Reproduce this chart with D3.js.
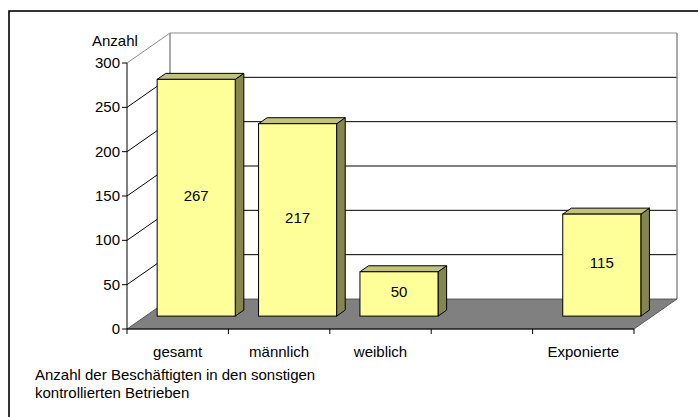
<!DOCTYPE html>
<html>
<head>
<meta charset="utf-8">
<script src="https://cdn.jsdelivr.net/npm/d3@7"></script>
<style>
  body { margin: 0; background: #fff; }
  text { font-family: "Liberation Sans", Arial, sans-serif; fill: #000; }
</style>
</head>
<body>
<script>
// chart data
var categories = ["gesamt", "männlich", "weiblich", "", "Exponierte"];
var values = [267, 217, 50, null, 115];
var yTicks = [0, 50, 100, 150, 200, 250, 300];
var yTitle = "Anzahl";
var footer = ["Anzahl der Beschäftigten in den sonstigen", "kontrollierten Betrieben"];

window.onload = drawChart();

function drawChart(){
	var width = 698, height = 417;

	var svg = d3.select("body").append("svg")
		.attr("width", width)
		.attr("height", height);

	//outer frame (cut off on the right and bottom)
	svg.append("rect")
		.attr("x", 9).attr("y", 11)
		.attr("width", 720).attr("height", 440)
		.attr("fill", "none").attr("stroke", "#000").attr("stroke-width", 1.6);

	//front plane scales
	var x0 = 127, x1 = 634;
	var x = d3.scaleBand()
		.domain(d3.range(categories.length))
		.range([x0, x1])
		.paddingInner(0.23)
		.paddingOuter(0.115);
	var y = d3.scaleLinear().domain([0, 300]).range([329, 63]);

	//depth offset of the 3d box
	var depthX = 43, depthY = -30;
	function ox(f){ return depthX * f; }
	function oy(f){ return depthY * f; }

	var bx0 = x0 + ox(1), bx1 = x1 + ox(1);

	//back wall
	svg.append("polygon")
		.attr("points", [[bx0, y(300) + oy(1)], [bx1, y(300) + oy(1)], [bx1, y(0) + oy(1)], [bx0, y(0) + oy(1)]].join(" "))
		.attr("fill", "#fff");

	//gridlines on side wall and back wall
	var grid = svg.append("g");
	yTicks.filter(function(v){ return v > 0; }).forEach(function(v){
		var c = v === 300 ? "#8c8c8c" : "#000";
		grid.append("line")
			.attr("x1", x0).attr("y1", y(v))
			.attr("x2", bx0).attr("y2", y(v) + oy(1))
			.attr("stroke", c);
		grid.append("line")
			.attr("x1", bx0).attr("y1", y(v) + oy(1))
			.attr("x2", bx1).attr("y2", y(v) + oy(1))
			.attr("stroke", c);
	});
	//back wall vertical edges
	[bx0, bx1].forEach(function(bx){
		grid.append("line")
			.attr("x1", bx).attr("y1", y(300) + oy(1))
			.attr("x2", bx).attr("y2", y(0) + oy(1))
			.attr("stroke", "#8c8c8c").attr("stroke-width", 1.5);
	});

	//floor
	svg.append("polygon")
		.attr("points", [[x0, y(0)], [x1, y(0)], [bx1, y(0) + oy(1)], [bx0, y(0) + oy(1)]].join(" "))
		.attr("fill", "#808080")
		.attr("stroke", "#444").attr("stroke-width", 0.8);

	//bars
	var fFront = 0.43, fBack = 0.63;
	var bars = svg.selectAll(".bar")
		.data(values.map(function(v, i){ return {v: v, i: i}; }).filter(function(d){ return d.v != null; }))
		.enter().append("g").attr("class", "bar");

	bars.each(function(d){
		var g = d3.select(this);
		var l = x(d.i) + ox(fFront), r = l + x.bandwidth();
		var t = y(d.v) + oy(fFront), b = y(0) + oy(fFront);
		var dx = ox(fBack) - ox(fFront), dy = oy(fBack) - oy(fFront);
		g.append("polygon")
			.attr("points", [[r, t], [r + dx, t + dy], [r + dx, b + dy], [r, b]].join(" "))
			.attr("fill", "#858550").attr("stroke", "#000").attr("stroke-linejoin", "round");
		g.append("polygon")
			.attr("points", [[l, t], [l + dx, t + dy], [r + dx, t + dy], [r, t]].join(" "))
			.attr("fill", "#c2c27a").attr("stroke", "#000").attr("stroke-linejoin", "round");
		g.append("rect")
			.attr("x", l).attr("y", t)
			.attr("width", r - l).attr("height", b - t)
			.attr("fill", "#ffff99").attr("stroke", "#000");
		g.append("text")
			.attr("x", (l + r) / 2).attr("y", (t + b) / 2 + 3)
			.attr("text-anchor", "middle")
			.style("font-size", "15px")
			.text(d.v);
	});

	//value axis
	svg.append("line")
		.attr("x1", x0).attr("y1", y(300)).attr("x2", x0).attr("y2", y(0))
		.attr("stroke", "#000");
	var yAxis = svg.append("g");
	yTicks.forEach(function(v){
		yAxis.append("line")
			.attr("x1", x0 - 5).attr("y1", y(v)).attr("x2", x0).attr("y2", y(v))
			.attr("stroke", "#000");
		yAxis.append("text")
			.attr("x", x0 - 7).attr("y", y(v) + 5)
			.attr("text-anchor", "end")
			.style("font-size", "15px")
			.text(v);
	});
	svg.append("text")
		.attr("x", 92).attr("y", 46)
		.style("font-size", "15px")
		.text(yTitle);

	//category axis
	svg.append("line")
		.attr("x1", x0).attr("y1", y(0)).attr("x2", x1).attr("y2", y(0))
		.attr("stroke", "#000");
	var step = x.step();
	d3.range(categories.length + 1).forEach(function(i){
		var tx = x0 + i * step;
		svg.append("line")
			.attr("x1", tx).attr("y1", y(0)).attr("x2", tx).attr("y2", y(0) + 5)
			.attr("stroke", "#000");
	});
	categories.forEach(function(c, i){
		svg.append("text")
			.attr("x", x0 + (i + 0.5) * step).attr("y", 357)
			.attr("text-anchor", "middle")
			.style("font-size", "15px")
			.text(c);
	});

	//footer note
	footer.forEach(function(s, i){
		svg.append("text")
			.attr("x", 35).attr("y", 380 + i * 18)
			.style("font-size", "15px")
			.text(s);
	});
};
</script>
</body>
</html>
